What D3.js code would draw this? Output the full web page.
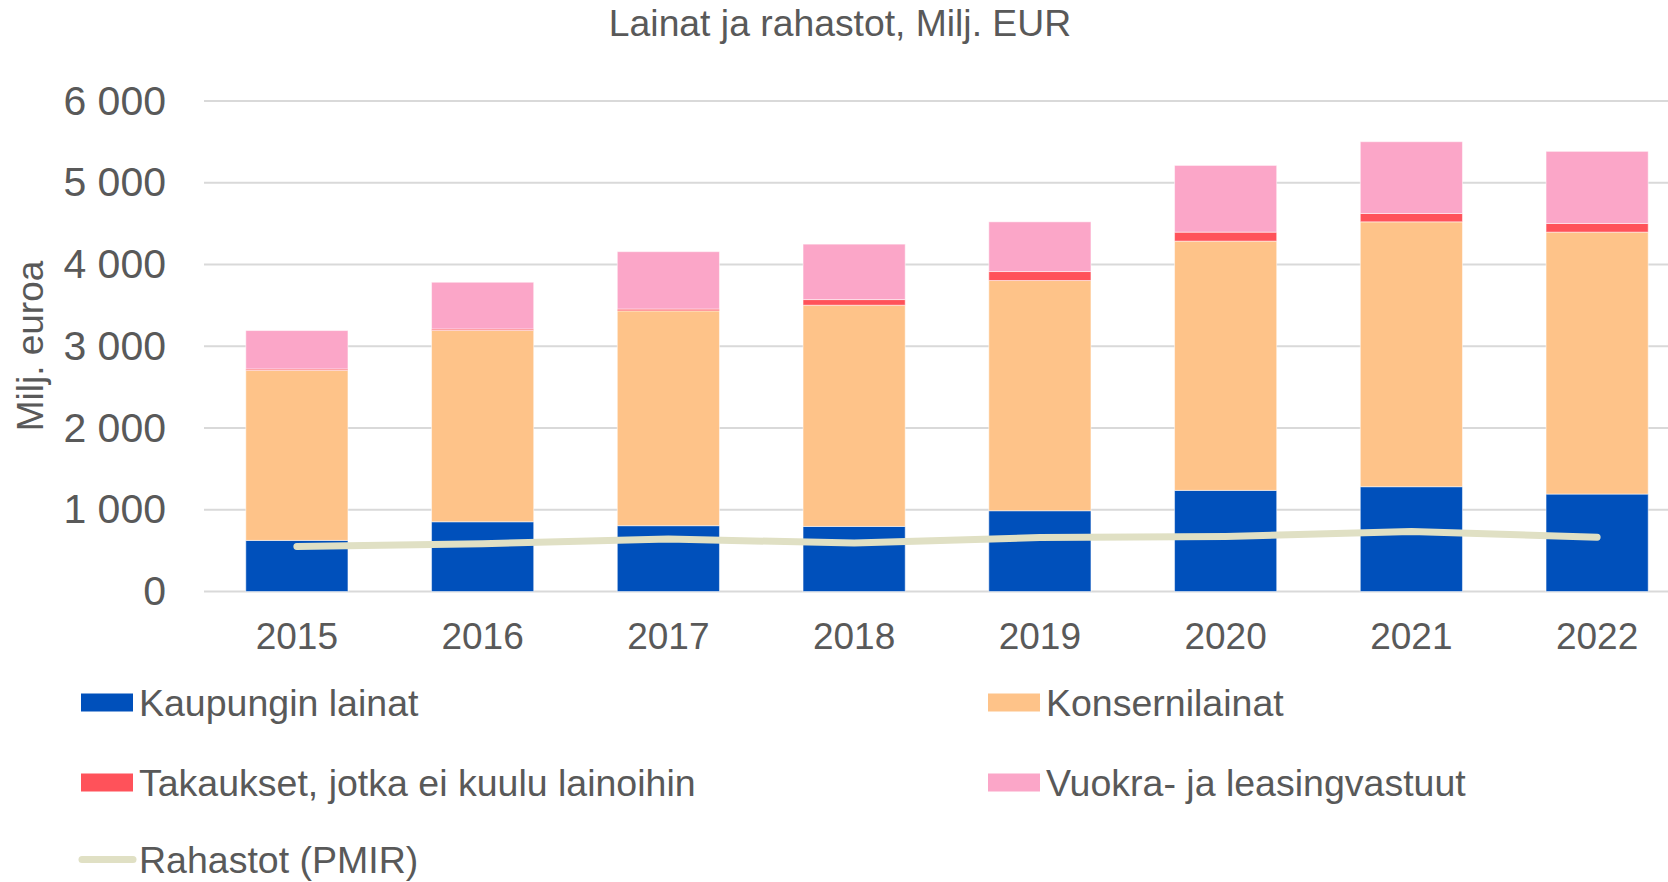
<!DOCTYPE html>
<html>
<head>
<meta charset="utf-8">
<script src="https://cdn.jsdelivr.net/npm/d3@7"></script>
<style>
  body { margin: 0; background: #fff; }
  svg { display: block; font-family: "Liberation Sans", Arial, sans-serif; }
</style>
</head>
<body>
<div id="chart"></div>
<script>
// values (Milj. EUR)
var years = ["2015", "2016", "2017", "2018", "2019", "2020", "2021", "2022"];
var kaupunginLainat = [625, 853, 805, 796, 988, 1237, 1282, 1192];
var konsernilainat = [2080, 2340, 2628, 2706, 2816, 3049, 3240, 3204];
var takaukset = [17, 18, 22, 69, 110, 110, 102, 106];
var vuokraLeasing = [470, 572, 702, 678, 608, 816, 878, 882];
var rahastot = [551, 584, 641, 592, 661, 673, 735, 665];
var yTicks = [0, 1000, 2000, 3000, 4000, 5000, 6000];

var seriesNames = ["Kaupungin lainat", "Konsernilainat", "Takaukset, jotka ei kuulu lainoihin", "Vuokra- ja leasingvastuut"];
var seriesColors = ["#0050bb", "#fec389", "#ff525a", "#fba6c8"];
var lineName = "Rahastot (PMIR)";
var lineColor = "#e0e0c4";

var width = 1668, height = 882;
var textColor = "#595959";

var svg = d3.select("#chart").append("svg")
  .attr("width", width)
  .attr("height", height);

// table for the stack
var rows = years.map(function(y, i) {
  return {
    year: y,
    k0: kaupunginLainat[i],
    k1: konsernilainat[i],
    k2: takaukset[i],
    k3: vuokraLeasing[i]
  };
});
var keys = ["k0", "k1", "k2", "k3"];
var stacked = d3.stack().keys(keys)(rows);

var x = d3.scaleBand()
  .domain(years)
  .range([204, 1690])
  .paddingInner(0.45)
  .paddingOuter(0.225);

var y = d3.scaleLinear()
  .domain([0, 6000])
  .range([591.5, 101]);

var fmt = d3.formatLocale({ decimal: ",", thousands: " ", grouping: [3], currency: ["", ""] }).format(",d");

// gridlines
svg.append("g")
  .selectAll("line")
  .data(yTicks)
  .enter().append("line")
  .attr("x1", 204)
  .attr("x2", width)
  .attr("y1", function(d) { return y(d); })
  .attr("y2", function(d) { return y(d); })
  .attr("stroke", "#d9d9d9")
  .attr("stroke-width", 2);

// y axis labels
var yAxis = svg.append("g")
  .attr("transform", "translate(166,0)")
  .call(d3.axisLeft(y).tickValues(yTicks).tickSize(0).tickPadding(0).tickFormat(fmt));
yAxis.select(".domain").remove();
yAxis.selectAll("text")
  .attr("fill", textColor)
  .attr("font-size", 41)
  .attr("font-family", "'Liberation Sans', Arial, sans-serif");

// stacked bars
svg.append("g")
  .selectAll("g")
  .data(stacked)
  .enter().append("g")
  .attr("fill", function(d, i) { return seriesColors[i]; })
  .selectAll("rect")
  .data(function(d) { return d; })
  .enter().append("rect")
  .attr("x", function(d) { return x(d.data.year); })
  .attr("width", x.bandwidth())
  .attr("y", function(d) { return y(d[1]); })
  .attr("height", function(d) { return y(d[0]) - y(d[1]); })
  .attr("stroke", "#ffffff")
  .attr("stroke-opacity", 0.5)
  .attr("stroke-width", 1);

// line
var line = d3.line()
  .x(function(d, i) { return x(years[i]) + x.bandwidth() / 2; })
  .y(function(d) { return y(d); });

svg.append("path")
  .datum(rahastot)
  .attr("d", line)
  .attr("fill", "none")
  .attr("stroke", lineColor)
  .attr("stroke-width", 7)
  .attr("stroke-linecap", "round")
  .attr("stroke-linejoin", "round");

// x axis labels
var xAxis = svg.append("g")
  .attr("transform", "translate(0,620)")
  .call(d3.axisBottom(x).tickSize(0).tickPadding(0));
xAxis.select(".domain").remove();
xAxis.selectAll("text")
  .attr("fill", textColor)
  .attr("font-size", 37)
  .attr("font-family", "'Liberation Sans', Arial, sans-serif")
  .attr("dy", "0.78em");

// title
svg.append("text")
  .attr("x", 840)
  .attr("y", 36)
  .attr("text-anchor", "middle")
  .attr("fill", textColor)
  .attr("font-size", 37.3)
  .text("Lainat ja rahastot, Milj. EUR");

// y axis title
svg.append("text")
  .attr("transform", "translate(43,346) rotate(-90)")
  .attr("text-anchor", "middle")
  .attr("fill", textColor)
  .attr("font-size", 37)
  .text("Milj. euroa");

// legend
var legendItems = [
  { name: seriesNames[0], color: seriesColors[0], col: 0, row: 0 },
  { name: seriesNames[1], color: seriesColors[1], col: 1, row: 0 },
  { name: seriesNames[2], color: seriesColors[2], col: 0, row: 1 },
  { name: seriesNames[3], color: seriesColors[3], col: 1, row: 1 }
];
var colX = [81, 988];
var rowY = [702.5, 782.5, 859.5];

var legend = svg.append("g");
legendItems.forEach(function(d) {
  var g = legend.append("g")
    .attr("transform", "translate(" + colX[d.col] + "," + rowY[d.row] + ")");
  g.append("rect")
    .attr("x", 0)
    .attr("y", -9)
    .attr("width", 52)
    .attr("height", 18)
    .attr("fill", d.color);
  g.append("text")
    .attr("x", 58)
    .attr("dy", "0.35em")
    .attr("fill", textColor)
    .attr("font-size", 37.5)
    .text(d.name);
});

var lg = legend.append("g")
  .attr("transform", "translate(" + colX[0] + "," + rowY[2] + ")");
lg.append("line")
  .attr("x1", 1)
  .attr("x2", 52)
  .attr("stroke", lineColor)
  .attr("stroke-width", 7)
  .attr("stroke-linecap", "round");
lg.append("text")
  .attr("x", 58)
  .attr("dy", "0.35em")
  .attr("fill", textColor)
  .attr("font-size", 37.5)
  .text(lineName);
</script>
</body>
</html>
